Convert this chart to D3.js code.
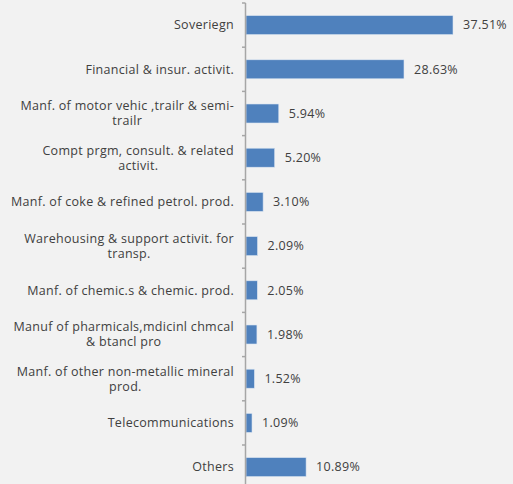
<!DOCTYPE html>
<html>
<head>
<meta charset="utf-8">
<script src="https://cdn.jsdelivr.net/npm/d3@7"></script>
<style>
  html, body { margin: 0; padding: 0; background: #f2f2f2; }
  svg { display: block; }
  text { font-family: "Open Sans", "Lato", sans-serif; fill: #404040; letter-spacing: 0.3px; }
</style>
</head>
<body>
<svg id="chart" width="513" height="484"></svg>
<script>
// Sector exposure, top to bottom ("\n" marks a line break in the label)
const categories = [
  "Soveriegn",
  "Financial & insur. activit.",
  "Manf. of motor vehic ,trailr & semi-\ntrailr",
  "Compt prgm, consult. & related\nactivit.",
  "Manf. of coke & refined petrol. prod.",
  "Warehousing & support activit. for\ntransp.",
  "Manf. of chemic.s & chemic. prod.",
  "Manuf of pharmicals,mdicinl chmcal\n& btancl pro",
  "Manf. of other non-metallic mineral\nprod.",
  "Telecommunications",
  "Others"
];
const values = [37.51, 28.63, 5.94, 5.20, 3.10, 2.09, 2.05, 1.98, 1.52, 1.09, 10.89];
const valueLabels = ["37.51%", "28.63%", "5.94%", "5.20%", "3.10%", "2.09%", "2.05%", "1.98%", "1.52%", "1.09%", "10.89%"];

const svg = d3.select("#chart");
const plotLeft = 246, plotTop = 3, band = 44.2;
const plotH = band * categories.length;
const fontSize = 12.5;

const x = d3.scaleLinear().domain([0, 37.51]).range([plotLeft, 453]);
const y = d3.scaleBand().domain(d3.range(categories.length)).range([plotTop, plotTop + plotH]).paddingInner(0.57).paddingOuter(0.285);

// bars
svg.append("g").selectAll("rect")
  .data(values)
  .join("rect")
  .attr("x", x(0))
  .attr("y", (d, i) => y(i))
  .attr("width", d => x(d) - x(0))
  .attr("height", y.bandwidth())
  .attr("fill", "#4f81bd")
  .attr("stroke", "#dbe5f1")
  .attr("stroke-width", 0.6);

// category axis with ticks on band boundaries
const axis = svg.append("g").attr("stroke", "#a6a6a6").attr("stroke-width", 1.5);
axis.append("line")
  .attr("x1", plotLeft - 0.5).attr("x2", plotLeft - 0.5)
  .attr("y1", plotTop).attr("y2", plotTop + plotH);
axis.selectAll("line.tick")
  .data(d3.range(categories.length + 1))
  .join("line")
  .attr("class", "tick")
  .attr("x1", plotLeft - 4).attr("x2", plotLeft - 0.5)
  .attr("y1", i => plotTop + i * band).attr("y2", i => plotTop + i * band);

// category labels: block right-aligned to the axis, lines centred within the block
const lineH = 15;
const labelRight = 234;
const labelGroups = svg.append("g").selectAll("g")
  .data(categories)
  .join("g");
labelGroups.each(function(d, i) {
  const lines = d.split("\n");
  const cy = y(i) + y.bandwidth() / 2;
  const y0 = cy - (lines.length - 1) * lineH / 2;
  const texts = d3.select(this).selectAll("text")
    .data(lines)
    .join("text")
    .attr("text-anchor", "middle")
    .attr("font-size", fontSize)
    .attr("y", (l, k) => y0 + k * lineH)
    .attr("dy", "0.35em")
    .text(l => l);
  const w = d3.max(texts.nodes(), n => n.getComputedTextLength());
  texts.attr("x", labelRight - w / 2);
});

// value labels
svg.append("g").selectAll("text")
  .data(values)
  .join("text")
  .attr("x", d => x(d) + 10)
  .attr("y", (d, i) => y(i) + y.bandwidth() / 2)
  .attr("dy", "0.35em")
  .attr("font-size", fontSize)
  .text((d, i) => valueLabels[i]);
</script>
</body>
</html>
